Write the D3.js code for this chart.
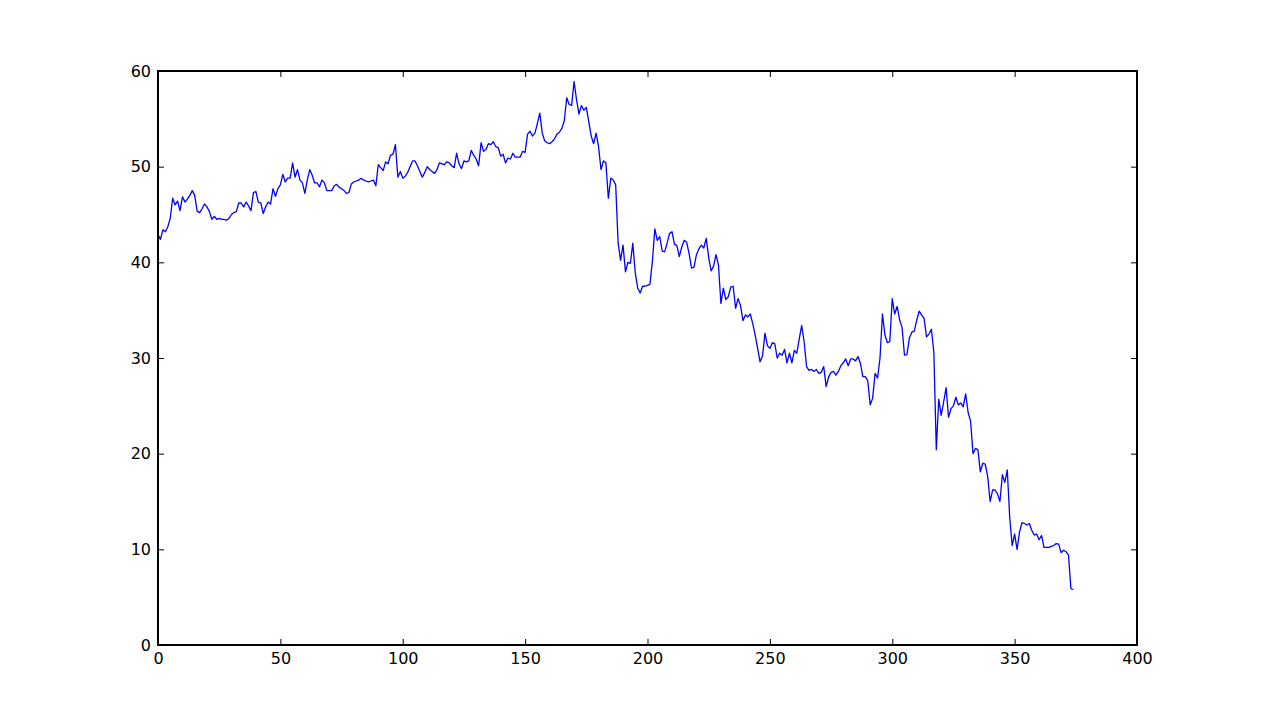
<!DOCTYPE html>
<html>
<head>
<meta charset="utf-8">
<script src="https://cdn.jsdelivr.net/npm/d3@7"></script>
<style>
  html, body { margin: 0; padding: 0; background: #ffffff; }
  svg { display: block; }
  .tick text { font-family: "DejaVu Sans", sans-serif; font-size: 16px; fill: #000; }
</style>
</head>
<body>
<div id="chart"></div>
<script>
// ---- data ----
const values = [
  42.9, 42.4, 43.4, 43.2, 43.7, 44.6, 46.7, 46.0, 46.4, 45.4,
  46.85, 46.3, 46.6, 47.0, 47.5, 47.0, 45.35, 45.2, 45.6, 46.1,
  45.8, 45.3, 44.5, 44.8, 44.5, 44.6, 44.5, 44.5, 44.4, 44.6,
  45.0, 45.2, 45.3, 46.2, 46.2, 45.8, 46.3, 45.9, 45.4, 47.3,
  47.4, 46.3, 46.2, 45.1, 45.8, 46.3, 46.1, 47.7, 46.9, 47.7,
  48.1, 49.2, 48.4, 48.8, 48.8, 50.4, 48.9, 49.7, 48.6, 48.3,
  47.2, 48.6, 49.7, 49.1, 48.3, 48.3, 47.9, 48.6, 48.3, 47.5,
  47.5, 47.5, 48.0, 48.15, 47.85, 47.7, 47.5, 47.2, 47.3, 48.2,
  48.4, 48.5, 48.6, 48.8, 48.6, 48.5, 48.4, 48.5, 48.6, 48.0,
  50.2, 49.9, 49.6, 50.5, 50.3, 51.2, 51.3, 52.3, 48.9, 49.5,
  48.8, 49.0, 49.4, 50.0, 50.6, 50.6, 50.1, 49.5, 48.9, 49.4,
  50.0, 49.7, 49.5, 49.3, 49.7, 50.4, 50.3, 50.2, 50.5, 50.4,
  50.1, 49.9, 51.4, 50.3, 49.8, 50.6, 50.5, 50.6, 51.7, 51.2,
  50.8, 50.1, 52.5, 51.6, 51.8, 52.4, 52.3, 52.6, 52.1, 52.0,
  51.1, 51.3, 50.4, 50.9, 50.8, 51.4, 51.0, 51.0, 51.0, 51.6,
  51.5, 53.4, 53.7, 53.2, 53.5, 54.5, 55.6, 53.5, 52.7, 52.5,
  52.4, 52.6, 52.9, 53.4, 53.6, 54.0, 54.8, 57.2, 56.5, 56.4,
  58.9, 57.0, 55.5, 56.4, 55.9, 56.2, 54.7, 53.2, 52.4, 53.5,
  52.1, 49.7, 50.6, 50.4, 46.7, 48.8, 48.6, 48.1, 42.0, 40.2,
  41.8, 39.0, 40.0, 39.9, 42.0, 38.9, 37.3, 36.8, 37.5, 37.5,
  37.6, 37.7, 40.1, 43.5, 42.3, 42.7, 41.2, 41.1, 42.0, 43.0,
  43.2, 41.9, 41.75, 40.6, 41.6, 42.3, 42.1, 40.9, 39.4, 39.5,
  40.8, 41.4, 41.8, 41.5, 42.5, 40.5, 39.1, 39.6, 40.8, 39.7,
  35.7, 37.3, 36.1, 36.4, 37.4, 37.5, 35.2, 36.2, 35.5, 33.9,
  34.5, 34.3, 34.6, 33.6, 32.4, 31.0, 29.6, 30.2, 32.6, 31.3,
  31.0, 31.6, 31.5, 30.0, 30.5, 30.3, 30.9, 29.5, 30.5, 29.5,
  30.8, 30.5, 32.0, 33.4, 31.7, 29.1, 28.7, 28.8, 28.6, 28.8,
  28.4, 28.5, 29.1, 27.0, 28.0, 28.5, 28.6, 28.2, 28.6, 29.2,
  29.5, 29.9, 29.2, 29.9, 29.9, 29.7, 30.15, 29.45, 28.05, 28.05,
  27.6, 25.1, 25.8, 28.4, 27.9, 30.0, 34.6, 32.4, 31.6, 31.7,
  36.2, 34.6, 35.4, 34.0, 33.2, 30.3, 30.35, 32.1, 32.7, 32.8,
  33.95, 34.9, 34.5, 34.15, 32.2, 32.5, 33.0, 30.6, 20.4, 25.7,
  24.0, 25.4, 26.9, 23.8, 24.7, 25.0, 25.9, 25.1, 25.3, 24.9,
  26.25, 24.3, 23.4, 20.0, 20.55, 20.4, 18.1, 19.0, 18.9, 17.6,
  15.0, 16.2, 16.2, 15.8, 15.0, 17.8, 17.0, 18.3, 13.3, 10.4,
  11.6, 10.0, 11.8, 12.8, 12.7, 12.55, 12.7, 12.0, 11.5, 11.6,
  11.0, 11.45, 10.2, 10.2, 10.2, 10.3, 10.4, 10.6, 10.55, 9.65,
  9.9, 9.75, 9.4, 5.9, 5.8
];
const xTicks = [0, 50, 100, 150, 200, 250, 300, 350, 400];
const yTicks = [0, 10, 20, 30, 40, 50, 60];
const xDomain = [0, 400];
const yDomain = [0, 60];

// ---- layout ----
const W = 1263, H = 717;
const margin = { left: 158, right: W - 1137, top: 71, bottom: H - 645 };
const iw = W - margin.left - margin.right;
const ih = H - margin.top - margin.bottom;

const svg = d3.select("#chart").append("svg")
  .attr("width", W).attr("height", H);

svg.append("rect").attr("width", W).attr("height", H).attr("fill", "#ffffff");

const g = svg.append("g").attr("transform", `translate(${margin.left},${margin.top})`);

const x = d3.scaleLinear().domain(xDomain).range([0, iw]);
const y = d3.scaleLinear().domain(yDomain).range([ih, 0]);

// line
const line = d3.line()
  .x((d, i) => x(i))
  .y(d => y(d));

g.append("path")
  .datum(values)
  .attr("fill", "none")
  .attr("stroke", "#0000ff")
  .attr("stroke-width", 1.3)
  .attr("stroke-linejoin", "round")
  .attr("d", line);

const tickLen = 6;

// bottom axis
const xAxis = g.append("g").attr("transform", `translate(0,${ih})`)
  .call(d3.axisBottom(x).tickValues(xTicks).tickFormat(d3.format("d"))
    .tickSizeInner(-tickLen).tickSizeOuter(0).tickPadding(8));
// top axis
const xAxisTop = g.append("g")
  .call(d3.axisTop(x).tickValues(xTicks).tickFormat("")
    .tickSizeInner(-tickLen).tickSizeOuter(0));
// left axis
const yAxis = g.append("g")
  .call(d3.axisLeft(y).tickValues(yTicks).tickFormat(d3.format("d"))
    .tickSizeInner(-tickLen).tickSizeOuter(0).tickPadding(7));
// right axis
const yAxisRight = g.append("g").attr("transform", `translate(${iw},0)`)
  .call(d3.axisRight(y).tickValues(yTicks).tickFormat("")
    .tickSizeInner(-tickLen).tickSizeOuter(0));

[xAxis, xAxisTop, yAxis, yAxisRight].forEach(a => {
  a.select(".domain").remove();
  a.selectAll(".tick line").attr("stroke", "#000").attr("stroke-width", 1);
});

// frame
g.append("rect")
  .attr("x", 0).attr("y", 0).attr("width", iw).attr("height", ih)
  .attr("fill", "none").attr("stroke", "#000").attr("stroke-width", 1.2)
  .attr("shape-rendering", "crispEdges");
</script>
</body>
</html>
